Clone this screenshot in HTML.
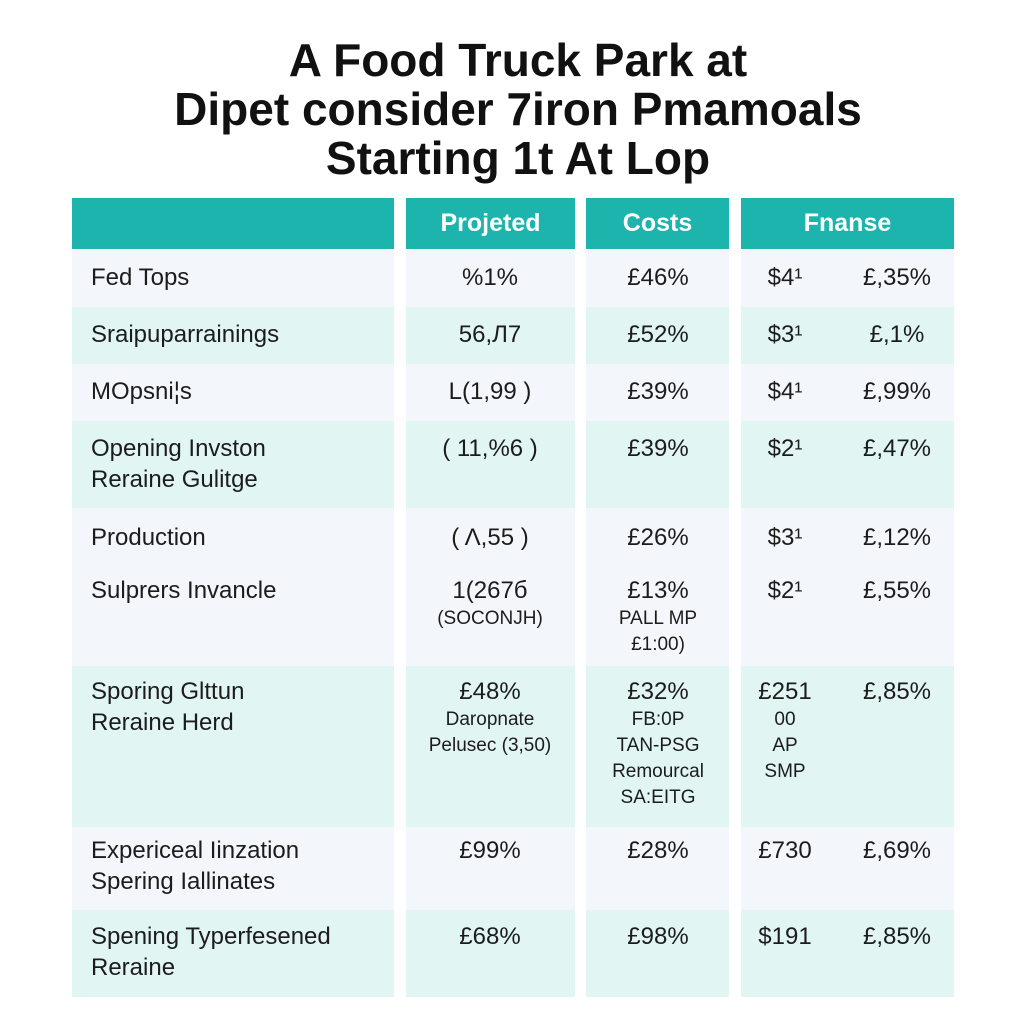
<!DOCTYPE html>
<html><head><meta charset="utf-8"><style>
body{margin:0;width:1024px;height:1024px;background:#fff;position:relative;overflow:hidden;font-family:"Liberation Sans",sans-serif;color:#1c1c1c}
.t{position:absolute;left:0;width:1036px;text-align:center;font-size:46px;font-weight:bold;letter-spacing:0px;color:#111;line-height:50px}
.bg{position:absolute}
.h{position:absolute;top:198px;height:51px;background:#1cb4ac;color:#fff;font-weight:bold;font-size:25px;text-align:center;line-height:51px}
.c{position:absolute;font-size:24px;line-height:31px;white-space:nowrap}
.n{text-align:center;transform:translateX(-50%)}
.s{font-size:19px;line-height:26px}
</style></head><body>
<div class="t" style="top:35px">A Food Truck Park at</div>
<div class="t" style="top:84px">Dipet consider 7iron Pmamoals</div>
<div class="t" style="top:133px">Starting 1t At Lop</div>

<div class="h" style="left:72px;width:322px"></div>
<div class="h" style="left:406px;width:169px">Projeted</div>
<div class="h" style="left:586px;width:143px">Costs</div>
<div class="h" style="left:741px;width:213px">Fnanse</div>

<div id="rows"></div>
<script>
var bands=[[250,307,'#f3f7fb'],[307,364,'#e1f5f3'],[364,421,'#f3f7fb'],[421,508,'#e1f5f3'],[508,666,'#f3f7fb'],[666,827,'#e1f5f3'],[827,910,'#f3f7fb'],[910,997,'#e1f5f3']];
var cols=[[72,322],[406,169],[586,143],[741,213]];
var root=document.getElementById('rows');
bands.forEach(function(b,i){cols.forEach(function(c,j){
var d=document.createElement('div');d.className='bg';


d.style.cssText='left:'+c[0]+'px;width:'+c[1]+'px;top:'+b[0]+'px;height:'+(b[1]-b[0])+'px;background:'+b[2];
root.appendChild(d);});});
var labels=[[262,'Fed Tops'],[319,'Sraipuparrainings'],[376,'MOpsni\u00a6s'],[433,'Opening Invston<br>Reraine Gulitge'],[522,'Production'],[575,'Sulprers Invancle'],[676,'Sporing Glttun<br>Reraine Herd'],[835,'Expericeal Iinzation<br>Spering Iallinates'],[921,'Spening Typerfesened<br>Reraine']];
labels.forEach(function(l){var d=document.createElement('div');d.className='c';


d.style.left='91px';d.style.top=l[0]+'px';d.innerHTML=l[1];root.appendChild(d);});
var cells=[
[262,[['%1%'],['£46%'],['$4\u00b9'],['£,35%']]],
[319,[['56,Л7'],['£52%'],['$3\u00b9'],['£,1%']]],
[376,[['L(1,99 )'],['£39%'],['$4\u00b9'],['£,99%']]],
[433,[['( 11,%6 )'],['£39%'],['$2\u00b9'],['£,47%']]],
[522,[['( Λ,55 )'],['£26%'],['$3\u00b9'],['£,12%']]],
[575,[['1(267б','(SOCONJH)'],['£13%','PALL MP','£1:00)'],['$2\u00b9'],['£,55%']]],
[676,[['£48%','Daropnate','Pelusec (3,50)'],['£32%','FB:0P','TAN-PSG','Remourcal','SA:EITG'],['£251','00','AP','SMP'],['£,85%']]],
[835,[['£99%'],['£28%'],['£730'],['£,69%']]],
[921,[['£68%'],['£98%'],['$191'],['£,85%']]]];
var cx=[490,658,785,897];
cells.forEach(function(r){r[1].forEach(function(v,j){var d=document.createElement('div');d.className='c n';


d.style.left=cx[j]+'px';d.style.top=r[0]+'px';
d.innerHTML=v[0]+v.slice(1).map(function(x){return '<div class="s">'+x+'</div>';}).join('');
root.appendChild(d);});});
</script>
</body></html>
